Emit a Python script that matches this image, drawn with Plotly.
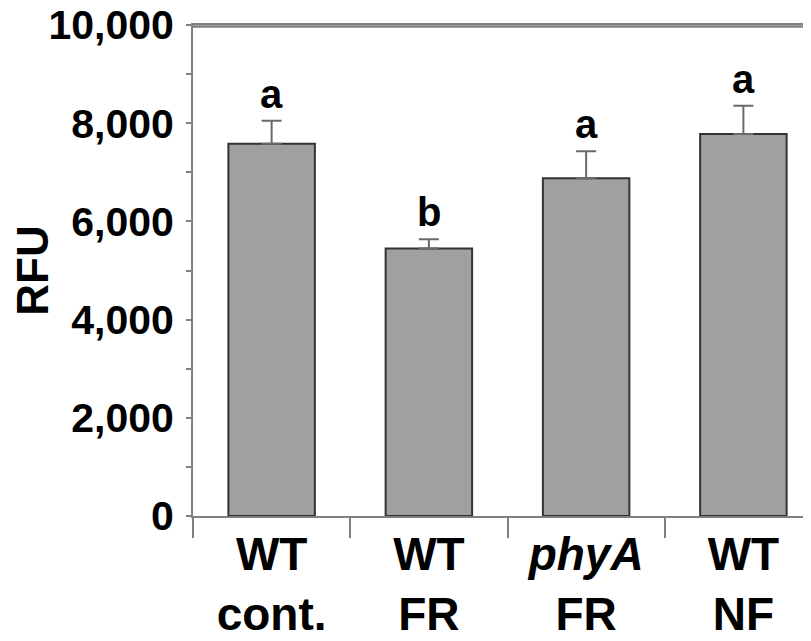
import plotly.graph_objects as go

categories = ["WT<br>cont.", "WT<br>FR", "<i>phyA</i><br>FR", "WT<br>NF"]
values = [7580, 5450, 6880, 7780]
errors = [470, 185, 550, 577]
letters = ["a", "b", "a", "a"]
y_ticks = [0, 2000, 4000, 6000, 8000, 10000]

FONT = "Liberation Sans, Arial, sans-serif"

fig = go.Figure()
fig.add_trace(go.Bar(
    x=categories, y=values, width=0.55,
    marker=dict(color="#a0a0a0", line=dict(color="#333333", width=2)),
    error_y=dict(type="data", array=errors, arrayminus=[0] * len(errors), symmetric=False,
                 color="#6a6a6a", thickness=2, width=10),
))

for c, v, e, t in zip(categories, values, errors, letters):
    fig.add_annotation(x=c, y=v + e, text=t, showarrow=False, yanchor="bottom", yshift=3,
                       font=dict(family=FONT, size=40, color="black", weight="bold"))

# top frame line, drawn slightly inside the plot area so it is not clipped
fig.add_shape(type="line", xref="paper", yref="paper", x0=0, x1=1, y0=0.997, y1=0.997,
              line=dict(color="#808080", width=2.5), layer="above")

fig.update_layout(
    width=811, height=641,
    margin=dict(l=185, r=8, t=17, b=133, autoexpand=False),
    plot_bgcolor="white", paper_bgcolor="white",
    showlegend=False,
)
fig.update_xaxes(
    type="category", categoryorder="array", categoryarray=categories,
    range=[-0.5, 3.43], automargin=False,
    tickson="boundaries", ticks="outside", ticklen=20, tickwidth=2, tickcolor="#808080",
    showline=True, linecolor="#808080", linewidth=2, mirror=True,
    showgrid=False, zeroline=False, ticklabeloverflow="allow", ticklabelstandoff=-3,
    tickfont=dict(family=FONT, size=46, color="black", weight="bold"),
)
fig.update_yaxes(
    range=[0, 10000], tickvals=y_ticks, tickformat=",", automargin=False,
    ticks="outside", ticklen=5, tickwidth=2, tickcolor="#808080",
    minor=dict(dtick=1000, ticks="outside", ticklen=5, tickwidth=2, tickcolor="#808080"),
    showline=True, linecolor="#808080", linewidth=2,
    showgrid=False, zeroline=False, ticklabelstandoff=4, ticklabeloverflow="allow",
    tickfont=dict(family=FONT, size=41, color="black", weight="bold"),
    title=dict(text="RFU", standoff=12, font=dict(family=FONT, size=44, color="black", weight="bold")),
)

fig.write_html("out.html", config={"displayModeBar": False})
